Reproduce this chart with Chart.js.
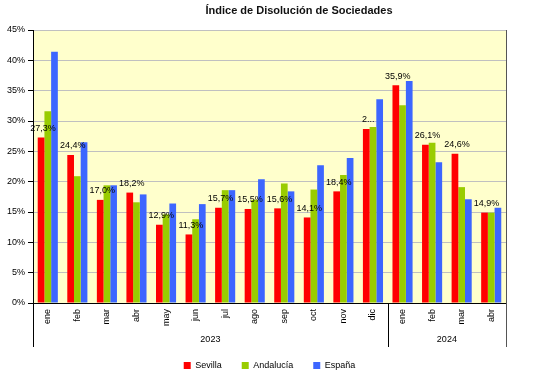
<!DOCTYPE html>
<html>
<head>
<meta charset="utf-8">
<script src="https://cdn.jsdelivr.net/npm/chart.js@4.4.0/dist/chart.umd.min.js"></script>
<style>
  html, body { margin: 0; padding: 0; background: #fff; }
  #wrap { width: 536px; height: 373px; }
</style>
</head>
<body>
<div id="wrap"><canvas id="myChart" width="536" height="373"></canvas></div>
<script>
// Data
const categories = ['ene', 'feb', 'mar', 'abr', 'may', 'jun', 'jul', 'ago', 'sep', 'oct', 'nov', 'dic', 'ene', 'feb', 'mar', 'abr'];
const years = ['2023', '2024'];
const yearSpans = [12, 4];
const sevilla = [27.3, 24.4, 17.0, 18.2, 12.9, 11.3, 15.7, 15.5, 15.6, 14.1, 18.4, 28.7, 35.9, 26.1, 24.6, 14.9];
const andalucia = [31.6, 20.9, 19.4, 16.6, 14.6, 13.8, 18.6, 17.0, 19.7, 18.7, 21.1, 29.0, 32.6, 26.4, 19.1, 14.9];
const espana = [41.4, 26.5, 19.4, 17.9, 16.4, 16.3, 18.6, 20.4, 18.4, 22.7, 23.9, 33.6, 36.6, 23.2, 17.1, 15.7];
const truncatedLabels = { 11: '2...' }; // label shown cut off in the original
const chartTitle = 'Índice de Disolución de Sociedades';

const FONT = "'Liberation Sans', Arial, sans-serif";

// Plot background, borders, title, year rows and Sevilla labels
const decorations = {
  id: 'decorations',
  beforeDraw(chart) {
    const { ctx, chartArea: a } = chart;
    ctx.save();
    ctx.fillStyle = '#FFFFCC';
    ctx.fillRect(a.left, a.top, a.right - a.left, a.bottom - a.top);
    ctx.restore();
  },
  afterDraw(chart) {
    const { ctx, chartArea: a } = chart;
    const x = chart.scales.x;
    const yearBottom = a.bottom + 44;
    const step = x.getPixelForValue(1) - x.getPixelForValue(0);
    ctx.save();

    // right border of plot, running down through the year row
    ctx.strokeStyle = '#555';
    ctx.lineWidth = 1;
    ctx.beginPath();
    ctx.moveTo(a.right + 0.5, a.top);
    ctx.lineTo(a.right + 0.5, yearBottom);
    ctx.stroke();

    // year groups
    ctx.strokeStyle = '#000';
    ctx.fillStyle = '#000';
    ctx.font = '9px ' + FONT;
    ctx.textAlign = 'center';
    ctx.textBaseline = 'middle';
    let start = 0;
    years.forEach((yr, i) => {
      const end = start + yearSpans[i] - 1;
      const left = x.getPixelForValue(start) - step / 2;
      const right = x.getPixelForValue(end) + step / 2;
      ctx.beginPath();
      ctx.moveTo(Math.round(left) + 0.5, a.bottom);
      ctx.lineTo(Math.round(left) + 0.5, yearBottom);
      ctx.stroke();
      ctx.fillText(yr, (left + right) / 2, a.bottom + 37);
      start += yearSpans[i];
    });

    // data labels on Sevilla bars
    const meta = chart.getDatasetMeta(0);
    ctx.font = "9px 'Liberation Sans Narrow', " + FONT;
    ctx.fillStyle = '#000';
    meta.data.forEach((bar, i) => {
      const txt = truncatedLabels[i] || sevilla[i].toFixed(1).replace('.', ',') + '%';
      ctx.fillText(txt, bar.x + 2, bar.y - 9);
    });

    // title
    ctx.font = 'bold 11px ' + FONT;
    ctx.fillStyle = '#111';
    ctx.fillText(chartTitle, 299, 11);
    ctx.restore();
  }
};

const ctx = document.getElementById('myChart').getContext('2d');
const myChart = new Chart(ctx, {
  type: 'bar',
  data: {
    labels: categories,
    datasets: [
      { label: 'Sevilla', data: sevilla, backgroundColor: '#FF0000' },
      { label: 'Andalucía', data: andalucia, backgroundColor: '#99CC00' },
      { label: 'España', data: espana, backgroundColor: '#3D66FF' }
    ]
  },
  options: {
    responsive: false,
    animation: false,
    layout: { padding: { top: 30, right: 30, left: 0, bottom: 0 } },
    datasets: { bar: { categoryPercentage: 0.68, barPercentage: 1.0 } },
    plugins: {
      title: { display: false },
      tooltip: { enabled: false },
      legend: {
        position: 'bottom',
        fullSize: false,
        maxHeight: 32,
        labels: {
          boxWidth: 7,
          boxHeight: 7,
          padding: 20,
          color: '#000',
          font: { family: FONT, size: 9 }
        }
      }
    },
    scales: {
      x: {
        grid: { display: false, drawTicks: false },
        border: { color: '#000', width: 1 },
        ticks: {
          color: '#000',
          minRotation: 90,
          maxRotation: 90,
          padding: 6,
          autoSkip: false,
          font: { family: FONT, size: 9 }
        },
        afterFit(scale) { scale.height = 38; }
      },
      y: {
        min: 0,
        max: 45,
        ticks: {
          stepSize: 5,
          color: '#000',
          padding: 3,
          font: { family: FONT, size: 9 },
          callback: v => v + '%'
        },
        grid: { color: '#C0C0C0', tickColor: '#000', tickLength: 5 },
        border: { color: '#000', width: 1 },
        afterFit(scale) { scale.width = 33; }
      }
    }
  },
  plugins: [decorations]
});
</script>
</body>
</html>
